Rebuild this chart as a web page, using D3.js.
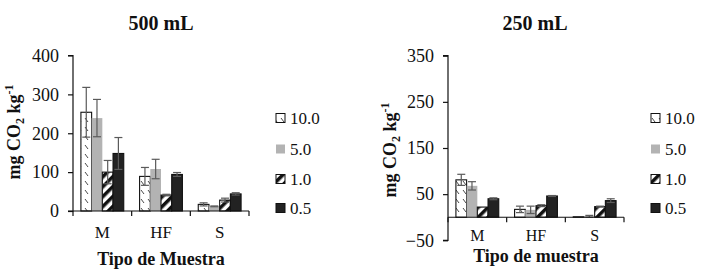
<!DOCTYPE html>
<html>
<head>
<meta charset="utf-8">
<script src="https://cdn.jsdelivr.net/npm/d3@7"></script>
<style>
  body { margin: 0; background: #fff; }
  svg text { font-family: "Liberation Serif", "DejaVu Serif", serif !important; fill: #111; }
</style>
</head>
<body>
<div id="chart"></div>
<script>
const categories = ["M", "HF", "S"];
const series = ["10.0", "5.0", "1.0", "0.5"];

// 500 mL, values per series (M, HF, S)
const vals500 = [[254, 89, 17], [239, 108, 12], [100, 41, 28], [148, 94, 44]];
const err500 = [[64, 23, 4], [48, 25, 1], [30, 2, 5], [41, 5, 3]];
const ticks500 = [0, 100, 200, 300, 400];

// 250 mL
const vals250 = [[81, 17, 1], [68, 16, 2], [22, 25, 23], [40, 46, 36]];
const err250 = [[12, 7, 0], [9, 8, 2], [0, 2, 1], [2, 1, 4]];
const ticks250 = [-50, 50, 150, 250, 350];

const serif = "'Liberation Serif', 'DejaVu Serif', serif";

const svg = d3.select("#chart").append("svg").attr("width", 706).attr("height", 278);

// patterns
const defs = svg.append("defs");
const hatch = defs.append("pattern").attr("id", "hatch")
  .attr("patternUnits", "userSpaceOnUse").attr("width", 7).attr("height", 9);
hatch.append("rect").attr("width", 7).attr("height", 9).attr("fill", "#fff");
hatch.append("line").attr("x1", 1).attr("y1", 1).attr("x2", 4).attr("y2", 5)
  .attr("stroke", "#333").attr("stroke-width", 0.9);

const stripes = defs.append("pattern").attr("id", "stripes")
  .attr("patternUnits", "userSpaceOnUse").attr("width", 7).attr("height", 7)
  .attr("patternTransform", "rotate(45)");
stripes.append("rect").attr("width", 7).attr("height", 7).attr("fill", "#fff");
stripes.append("rect").attr("width", 3.5).attr("height", 7).attr("fill", "#111");

const fills = ["url(#hatch)", "#b3b3b3", "url(#stripes)", "#222"];
const strokes = ["#111", "none", "#111", "#111"];

function drawChart(cfg) {
  const y = d3.scaleLinear().domain(cfg.domain).range([cfg.yBottom, cfg.yTop]);
  const x = d3.scaleBand().domain(categories).range([cfg.x0, cfg.x1])
    .paddingInner(0.27).paddingOuter(0.135);
  const xs = d3.scaleBand().domain(series).range([0, x.bandwidth()]);
  const baseY = y(Math.max(0, cfg.domain[0]));

  const g = svg.append("g").style("font-family", serif);

  // title
  g.append("text").attr("x", cfg.titleX).attr("y", 30)
    .attr("text-anchor", "middle").attr("font-size", 20).attr("font-weight", "bold")
    .text(cfg.title);

  // bars
  series.forEach((s, i) => {
    g.selectAll(null).data(categories).enter().append("rect")
      .attr("x", (c) => x(c) + xs(s))
      .attr("width", xs.bandwidth())
      .attr("y", (c, j) => y(Math.max(0, cfg.vals[i][j])))
      .attr("height", (c, j) => Math.abs(y(cfg.vals[i][j]) - baseY))
      .attr("fill", fills[i])
      .attr("stroke", strokes[i])
      .attr("stroke-width", 1.1);
  });

  // error bars
  series.forEach((s, i) => {
    categories.forEach((c, j) => {
      const e = cfg.errs[i][j];
      if (!e) return;
      const cx = x(c) + xs(s) + xs.bandwidth() / 2;
      const v = cfg.vals[i][j];
      const eg = g.append("g").attr("stroke", "#5a5a5a").attr("stroke-width", 1.2);
      eg.append("line").attr("x1", cx).attr("x2", cx).attr("y1", y(v - e)).attr("y2", y(v + e));
      eg.append("line").attr("x1", cx - 4).attr("x2", cx + 4).attr("y1", y(v + e)).attr("y2", y(v + e));
      eg.append("line").attr("x1", cx - 4).attr("x2", cx + 4).attr("y1", y(v - e)).attr("y2", y(v - e));
    });
  });

  // y axis
  const yAxis = d3.axisLeft(y).tickValues(cfg.ticks).tickSize(5).tickPadding(9);
  const ya = g.append("g").attr("transform", `translate(${cfg.x0},0)`).call(yAxis);
  ya.attr("font-family", null);
  ya.select(".domain").attr("stroke", "#111").attr("stroke-width", 1.2).attr("d", `M-5,${cfg.yTop}H0V${cfg.yBottom}H-5`);
  ya.selectAll(".tick line").attr("stroke", "#111").attr("stroke-width", 1.2);
  ya.selectAll("text").attr("font-size", 18).style("font-family", serif).attr("fill", "#222");

  // x axis at zero
  const xAxis = d3.axisBottom(x).tickSize(0).tickPadding(cfg.catPad);
  const xa = g.append("g").attr("transform", `translate(0,${baseY})`).call(xAxis);
  xa.attr("font-family", null);
  xa.select(".domain").remove();
  xa.append("line").attr("x1", cfg.x0).attr("x2", cfg.x1).attr("stroke", "#111").attr("stroke-width", 1.2);
  const bound = d3.range(categories.length + 1).map((k) => cfg.x0 + k * x.step());
  xa.selectAll(null).data(bound).enter().append("line")
    .attr("x1", (d) => d).attr("x2", (d) => d).attr("y1", 0).attr("y2", 5)
    .attr("stroke", "#111").attr("stroke-width", 1.2);
  xa.selectAll("text").attr("font-size", cfg.catSize).style("font-family", serif).attr("fill", "#222");

  // x title
  g.append("text").attr("x", (cfg.x0 + cfg.x1) / 2).attr("y", cfg.xTitleY)
    .attr("text-anchor", "middle").attr("font-size", 18).attr("font-weight", "bold")
    .text(cfg.xTitle);

  // y title
  const yt = g.append("text")
    .attr("transform", `translate(${cfg.yTitleX},${cfg.yTitleY}) rotate(-90)`)
    .attr("text-anchor", "middle").attr("font-size", 18).attr("font-weight", "bold");
  yt.append("tspan").text("mg CO");
  yt.append("tspan").attr("font-size", 12).attr("dy", 4).text("2");
  yt.append("tspan").attr("dy", -4).text(" kg");
  yt.append("tspan").attr("font-size", 12).attr("dy", -7).text("-1");

  // legend
  const lg = g.append("g");
  series.forEach((s, i) => {
    const ly = cfg.legendY[i];
    lg.append("rect").attr("x", cfg.legendX).attr("y", ly - 4.5)
      .attr("width", 9).attr("height", 9)
      .attr("fill", fills[i])
      .attr("stroke", strokes[i]).attr("stroke-width", 1);
    lg.append("text").attr("x", cfg.legendX + 14).attr("y", ly + 6)
      .attr("font-size", 17).text(s);
  });
}

drawChart({
  title: "500 mL", titleX: 161,
  vals: vals500, errs: err500, ticks: ticks500,
  domain: [0, 400], yTop: 55.5, yBottom: 211,
  x0: 73, x1: 249, catPad: 15, catSize: 17,
  xTitle: "Tipo de Muestra", xTitleY: 265,
  yTitleX: 20, yTitleY: 132,
  legendX: 276, legendY: [118, 149, 179, 208]
});

drawChart({
  title: "250 mL", titleX: 535,
  vals: vals250, errs: err250, ticks: ticks250,
  domain: [-50, 350], yTop: 55.7, yBottom: 240.3,
  x0: 448, x1: 624, catPad: 12.5, catSize: 16,
  xTitle: "Tipo de muestra", xTitleY: 262,
  yTitleX: 396, yTitleY: 150,
  legendX: 651, legendY: [118, 149, 179, 208]
});
</script>
</body>
</html>
